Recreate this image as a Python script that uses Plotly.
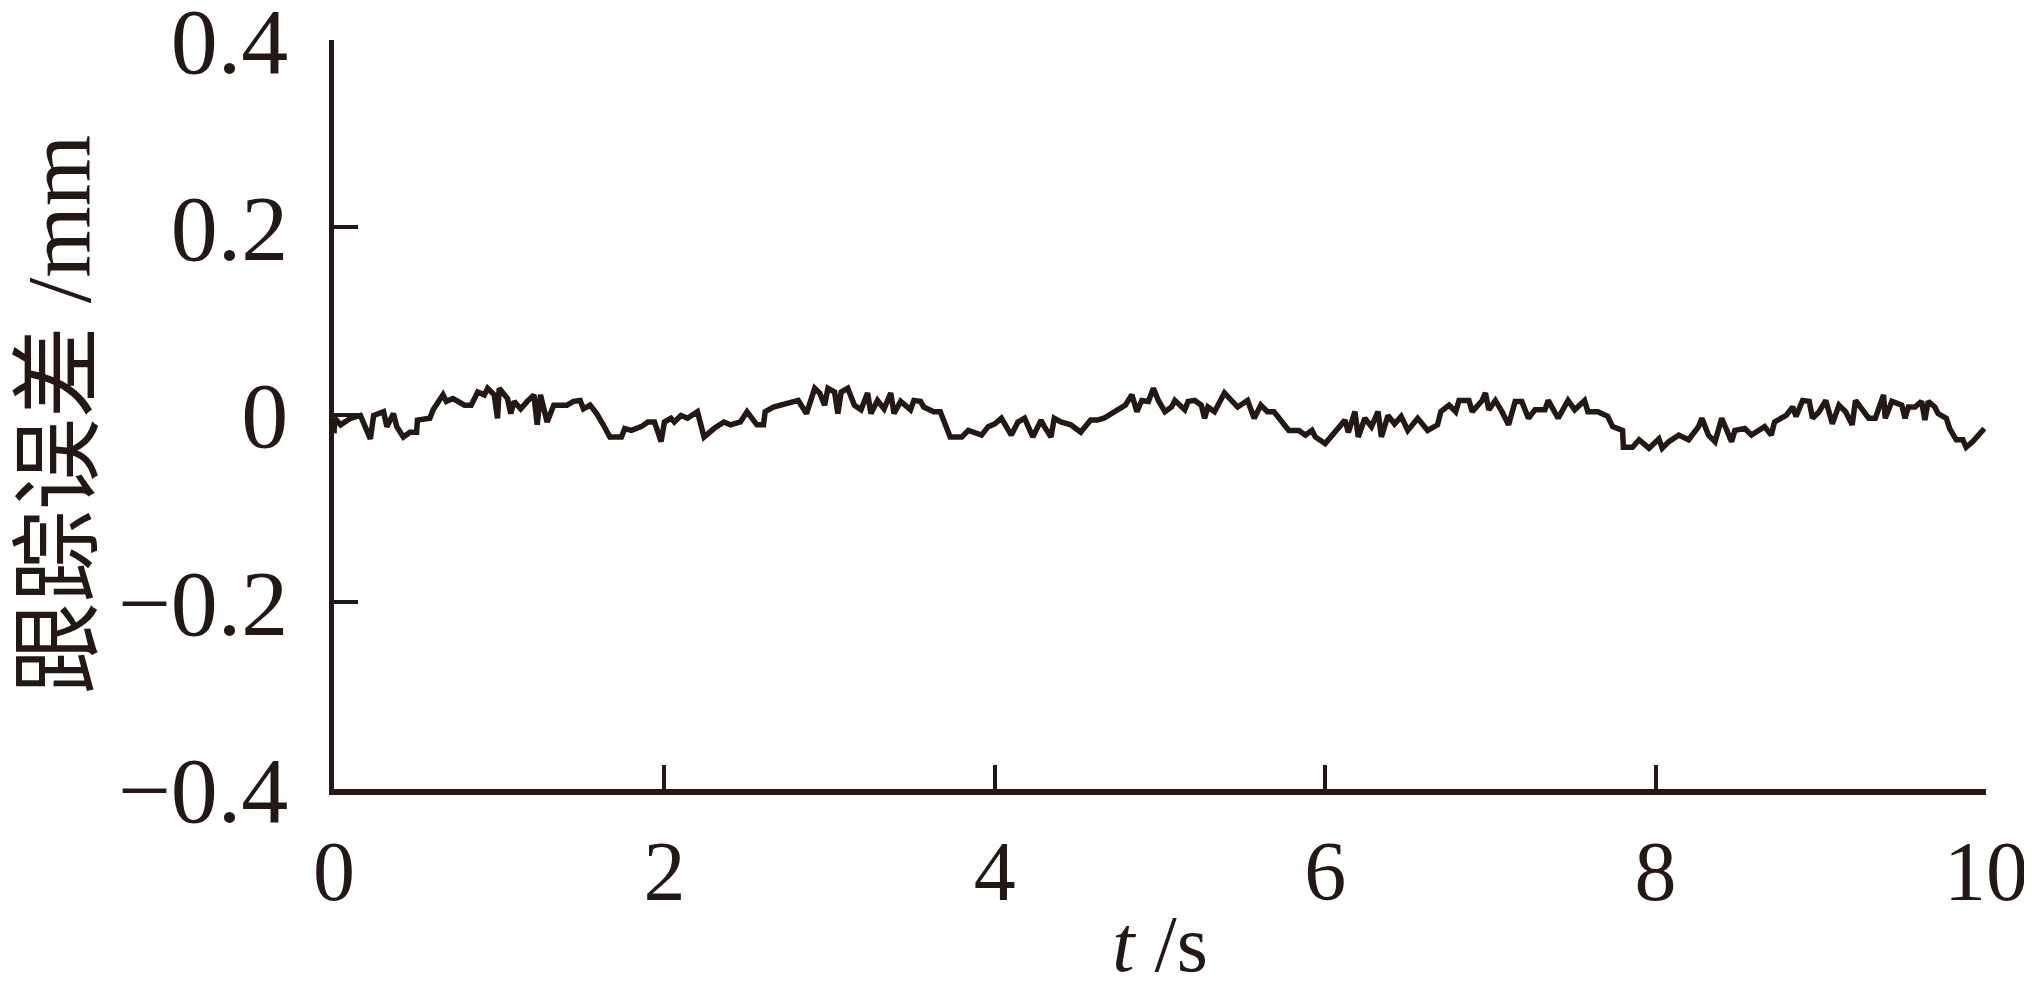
import plotly.graph_objects as go

t_s = [0.00, 0.005, 0.04, 0.10, 0.16, 0.22, 0.24, 0.30, 0.32, 0.36, 0.38, 0.42, 0.46, 0.50, 0.505,
       0.58, 0.60, 0.66, 0.68, 0.72, 0.79, 0.83, 0.87, 0.91, 0.93, 0.97, 0.99, 1.00, 1.05, 1.07,
       1.09, 1.13, 1.17, 1.21, 1.23, 1.25, 1.29, 1.33, 1.41, 1.45, 1.49, 1.51, 1.55, 1.59, 1.63,
       1.67, 1.74, 1.76, 1.80, 1.86, 1.90, 1.94, 1.98, 2.00, 2.04, 2.06, 2.10, 2.14, 2.20, 2.24,
       2.30, 2.36, 2.40, 2.46, 2.50, 2.53, 2.56, 2.60, 2.61, 2.66, 2.70, 2.745, 2.81, 2.86, 2.91,
       2.94, 2.97, 2.99, 3.03, 3.05, 3.07, 3.11, 3.15, 3.19, 3.23, 3.25, 3.29, 3.33, 3.37, 3.39,
       3.43, 3.49, 3.51, 3.55, 3.57, 3.63, 3.67, 3.73, 3.80, 3.84, 3.88, 3.92, 3.96, 4.00, 4.04,
       4.10, 4.14, 4.18, 4.23, 4.28, 4.30, 4.34, 4.36, 4.40, 4.46, 4.52, 4.58, 4.62, 4.66, 4.72,
       4.79, 4.83, 4.86, 4.89, 4.93, 4.96, 4.99, 5.03, 5.07, 5.09, 5.15, 5.17, 5.21, 5.25, 5.27,
       5.29, 5.33, 5.39, 5.47, 5.53, 5.57, 5.61, 5.65, 5.69, 5.78, 5.84, 5.88, 5.92, 5.94, 6.00,
       6.06, 6.12, 6.14, 6.18, 6.20, 6.24, 6.28, 6.32, 6.34, 6.38, 6.42, 6.46, 6.50, 6.56, 6.62,
       6.68, 6.70, 6.75, 6.79, 6.81, 6.87, 6.89, 6.95, 6.97, 6.99, 7.03, 7.07, 7.11, 7.15, 7.19,
       7.23, 7.27, 7.33, 7.35, 7.41, 7.47, 7.51, 7.57, 7.59, 7.65, 7.71, 7.74, 7.80, 7.805, 7.86,
       7.90, 7.96, 8.02, 8.04, 8.08, 8.14, 8.20, 8.26, 8.28, 8.32, 8.36, 8.40, 8.46, 8.48, 8.54,
       8.58, 8.62, 8.66, 8.70, 8.72, 8.79, 8.83, 8.85, 8.89, 8.93, 8.95, 8.99, 9.03, 9.07, 9.11,
       9.15, 9.19, 9.21, 9.25, 9.29, 9.33, 9.38, 9.39, 9.43, 9.49, 9.51, 9.53, 9.57, 9.61, 9.63,
       9.65, 9.69, 9.71, 9.76, 9.78, 9.82, 9.86, 9.88, 9.92, 9.99]

error_mm = [-0.020, -0.004, -0.011, -0.004, -0.001, -0.026, -0.001, 0.003, -0.013, 0.001, -0.013, -0.024, -0.019, -0.019, -0.006,
            -0.004, 0.005, 0.021, 0.014, 0.017, 0.010, 0.010, 0.024, 0.021, 0.028, 0.021, -0.004, 0.028, 0.017, 0.001,
            0.014, 0.006, 0.014, 0.021, -0.011, 0.021, -0.008, 0.010, 0.010, 0.014, 0.015, 0.006, 0.010, 0.001, -0.011,
            -0.024, -0.024, -0.015, -0.017, -0.013, -0.008, -0.008, -0.029, -0.008, -0.004, -0.008, -0.001, -0.004, 0.003, -0.024,
            -0.015, -0.008, -0.011, -0.008, 0.003, -0.004, -0.011, -0.011, 0.003, 0.008, 0.010, 0.012, 0.015, 0.001, 0.028,
            0.023, 0.010, 0.028, 0.024, 0.001, 0.024, 0.028, 0.010, 0.005, 0.023, 0.001, 0.015, 0.006, 0.023, 0.001,
            0.014, 0.005, 0.015, 0.014, 0.008, 0.003, 0.003, -0.024, -0.024, -0.017, -0.019, -0.022, -0.013, -0.010, -0.004,
            -0.022, -0.008, -0.004, -0.024, -0.006, -0.013, -0.024, -0.004, -0.008, -0.011, -0.019, -0.006, -0.006, -0.004, 0.003,
            0.010, 0.021, 0.003, 0.015, 0.014, 0.028, 0.015, 0.003, 0.008, 0.015, 0.005, 0.014, 0.015, 0.010, -0.004,
            0.008, 0.003, 0.023, 0.008, 0.015, -0.004, 0.010, 0.003, 0.003, -0.017, -0.017, -0.022, -0.017, -0.024, -0.031,
            -0.019, -0.006, -0.019, 0.003, -0.024, -0.004, -0.013, 0.003, -0.024, -0.001, -0.010, -0.002, -0.017, -0.004, -0.017,
            -0.011, 0.003, 0.010, 0.003, 0.015, 0.015, 0.003, 0.015, 0.023, 0.005, 0.015, 0.003, -0.011, 0.014, 0.014,
            -0.004, 0.005, 0.005, 0.015, -0.004, 0.015, 0.005, 0.015, 0.003, 0.003, -0.002, -0.013, -0.017, -0.035, -0.035,
            -0.027, -0.036, -0.026, -0.036, -0.029, -0.022, -0.027, -0.013, -0.004, -0.022, -0.029, -0.004, -0.029, -0.017, -0.015,
            -0.022, -0.017, -0.013, -0.022, -0.008, -0.001, 0.008, -0.002, 0.015, 0.014, -0.004, 0.003, 0.015, -0.010, 0.010,
            0.003, -0.011, 0.015, 0.006, -0.004, -0.004, 0.021, -0.004, 0.014, 0.010, -0.004, 0.008, 0.008, 0.014, -0.006,
            0.014, 0.008, 0.001, -0.004, -0.015, -0.027, -0.027, -0.035, -0.029, -0.015]

x_ticks = [0, 2, 4, 6, 8, 10]
x_tick_labels = ["0", "2", "4", "6", "8", "10"]
y_ticks = [-0.4, -0.2, 0, 0.2, 0.4]
y_tick_labels = ["\u22120.4", "\u22120.2", "0", "0.2", "0.4"]

INK = "#231815"
SERIF = "Liberation Serif, Times New Roman, serif"

fig = go.Figure()
fig.add_trace(go.Scatter(x=t_s, y=error_mm, mode="lines",
                         line=dict(color=INK, width=5.5), showlegend=False))

fig.update_layout(
    width=2032, height=984,
    margin=dict(l=326, r=54, t=32, b=203, autoexpand=False),
    paper_bgcolor="white", plot_bgcolor="white",
    font=dict(family=SERIF, color=INK),
    xaxis=dict(range=[0, 10], tickvals=x_ticks, ticktext=x_tick_labels, automargin=False,
               showgrid=False, zeroline=False, showline=True, linecolor=INK, linewidth=6,
               ticks="inside", ticklen=24, tickwidth=4, tickcolor=INK,
               tickfont=dict(family=SERIF, size=84, color=INK), ticklabelstandoff=4,
               ticklabeloverflow="allow",
               title=dict(text="<i>t</i> /s", font=dict(family=SERIF, size=80, color=INK), standoff=0)),
    yaxis=dict(range=[-0.4, 0.4], tickvals=y_ticks, ticktext=y_tick_labels, automargin=False,
               showgrid=False, zeroline=False, showline=True, linecolor=INK, linewidth=5,
               ticks="inside", ticklen=24, tickwidth=4, tickcolor=INK,
               tickfont=dict(family=SERIF, size=94, color=INK), ticklabelstandoff=22,
               ticklabeloverflow="allow",
               title=dict(text="跟踪误差 /mm", font=dict(family="Liberation Serif, Noto Sans CJK SC", size=92, color=INK), standoff=24)),
)

fig.write_html("out.html")
